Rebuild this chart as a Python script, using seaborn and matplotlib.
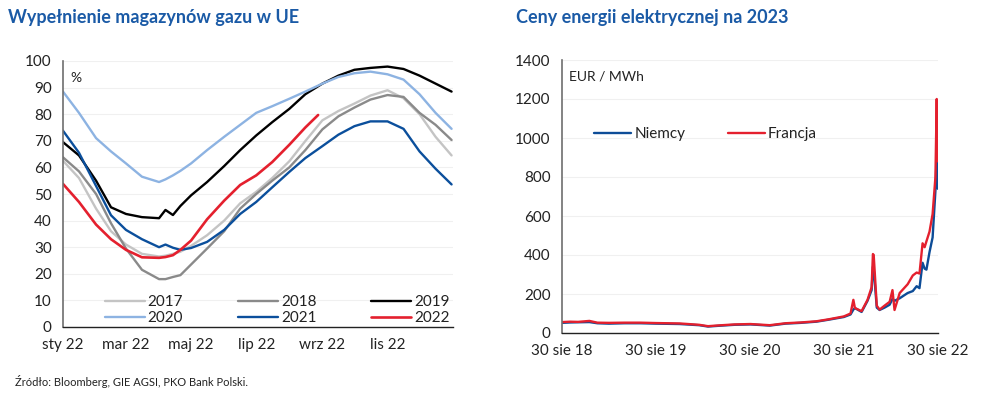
import pandas as pd
import matplotlib.pyplot as plt
import seaborn as sns

# --- left panel: EU gas storage fill (%), by day of year ---
days = [0, 15, 31, 45, 59, 74, 90, 96, 103, 110, 120, 135, 151, 166, 181, 196,
        212, 227, 243, 258, 273, 288, 304, 319, 334, 349, 364]
fill_2017 = [62.5, 56, 44.5, 36, 31, 27.5, 26.5, 26.8, 27.5, 28.3, 30.5, 34.5, 40, 46.5,
             50.8, 56, 62.3, 69.9, 77.7, 81.2, 84, 87, 89, 86, 80, 71.5, 64.5]
fill_2018 = [63.8, 58.5, 50, 39, 29.5, 21.5, 18, 18, 18.8, 19.5, 23.5, 29.5, 36, 44.5,
             50, 55, 60, 66.5, 74.3, 79.2, 82.5, 85.5, 87.2, 86.5, 80.5, 76, 70.3]
fill_2019 = [69.5, 64.5, 55, 45, 42.5, 41.3, 40.9, 44, 42.1, 45.5, 49.5, 54.5, 60.5, 66.5,
             72, 77, 82, 87.5, 91.5, 94.5, 96.7, 97.4, 97.9, 97, 94.5, 91.5, 88.5]
fill_2020 = [88.5, 80.5, 71, 66, 61.5, 56.5, 54.5, 55.5, 57, 58.7, 61.5, 66.5, 71.5, 76,
             80.5, 83, 85.8, 88.5, 91.5, 94, 95.4, 96, 95, 93, 87.5, 80.5, 74.5]
fill_2021 = [73.8, 65.5, 53, 42, 36.5, 33, 30, 31, 29.8, 29, 29.7, 32, 36.5, 42.5,
             47, 52.5, 58.3, 63.5, 68, 72.3, 75.5, 77.3, 77.3, 74.5, 66, 59.5, 53.6]
days_2022 = days[:18] + [239]
fill_2022 = [53.8, 47, 38.5, 33, 29, 26.2, 26, 26.3, 27, 29, 32.5, 40.5, 47.5, 53.4,
             57, 62, 68.5, 75, 79.7]

gas_years = ['2017', '2018', '2019', '2020', '2021', '2022']
gas_colors = ['#c4c4c4', '#8a8a8a', '#000000', '#8db3e2', '#0b4f9c', '#e4202e']
month_ticks = [0, 59, 120, 181, 243, 304, 365]
month_labels = ['sty 22', 'mar 22', 'maj 22', 'lip 22', 'wrz 22', 'lis 22', '']

# --- right panel: 2023 baseload power price (EUR/MWh) ---
price_dates = ['2018-08-30', '2018-10-01', '2018-11-01', '2018-12-15', '2019-01-15',
               '2019-03-01', '2019-05-01', '2019-07-01', '2019-09-01', '2019-12-01',
               '2020-02-15', '2020-03-20', '2020-05-01', '2020-07-01', '2020-09-01',
               '2020-11-15', '2021-01-15', '2021-03-15', '2021-05-15', '2021-07-01',
               '2021-08-30', '2021-09-25', '2021-10-06', '2021-10-12', '2021-11-07',
               '2021-11-30', '2021-12-16', '2021-12-21', '2021-12-24', '2022-01-05',
               '2022-01-16', '2022-02-04', '2022-02-24', '2022-03-07', '2022-03-15',
               '2022-04-04', '2022-05-05', '2022-05-25', '2022-06-09', '2022-06-20',
               '2022-07-02', '2022-07-10', '2022-07-17', '2022-07-29', '2022-08-10',
               '2022-08-21', '2022-08-26', '2022-08-29', '2022-08-30']
niemcy = [52, 54, 55, 56, 50, 48, 50, 50, 48, 46, 40, 33, 37, 42, 44, 38, 48, 52, 58, 68,
          82, 95, 120, 128, 108, 165, 220, 340, 330, 130, 118, 130, 145, 175, 165, 178,
          205, 215, 240, 230, 360, 330, 325, 415, 490, 730, 925, 760, 740]
francja = [56, 58, 57, 62, 53, 52, 53, 53, 51, 49, 42, 35, 39, 44, 46, 40, 50, 54, 60, 70,
           85, 100, 170, 128, 112, 170, 235, 405, 400, 140, 120, 140, 160, 220, 118, 205,
           250, 295, 310, 305, 460, 440, 470, 520, 610, 800, 1200, 900, 880]
price_ticks = ['2018-08-30', '2019-08-30', '2020-08-30', '2021-08-30', '2022-08-30']
price_labels = ['30 sie 18', '30 sie 19', '30 sie 20', '30 sie 21', '30 sie 22']

sns.set_style('white')
plt.rcParams['font.family'] = ['Lato', 'DejaVu Sans']
title_color = '#1a5aa6'
text_color = '#222222'

fig = plt.figure(figsize=(9.84, 4.0), dpi=100)
ax1 = fig.add_axes([0.064, 0.1825, 0.396, 0.665])
ax2 = fig.add_axes([0.571, 0.1675, 0.382, 0.6825])

# left chart
series = [fill_2017, fill_2018, fill_2019, fill_2020, fill_2021]
for yr, vals, col in zip(gas_years[:5], series, gas_colors[:5]):
    sns.lineplot(x=days, y=vals, ax=ax1, color=col, lw=1.7, label=yr, estimator=None)
sns.lineplot(x=days_2022, y=fill_2022, ax=ax1, color=gas_colors[5], lw=1.9,
             label='2022', estimator=None)

ax1.set_xlim(0, 365)
ax1.set_ylim(0, 100)
ax1.set_yticks(range(0, 101, 10))
ax1.set_xticks(month_ticks)
ax1.set_xticklabels(month_labels)
ax1.text(0.02, 0.96, '%', transform=ax1.transAxes, fontsize=10, color=text_color,
         va='top')

handles, labels = ax1.get_legend_handles_labels()
order = [0, 3, 1, 4, 2, 5]
ax1.legend([handles[i] for i in order], [labels[i] for i in order], ncol=3,
           loc='lower center', bbox_to_anchor=(0.55, -0.045), frameon=False,
           fontsize=11, handlelength=2.6, handletextpad=0.2, columnspacing=3.6,
           labelspacing=0.15, labelcolor=text_color)

# right chart
dates = pd.to_datetime(price_dates)
sns.lineplot(x=dates, y=niemcy, ax=ax2, color='#0d4c97', lw=1.7, label='Niemcy',
             estimator=None)
sns.lineplot(x=dates, y=francja, ax=ax2, color='#e4202e', lw=1.7, label='Francja',
             estimator=None)
ax2.set_xlim(pd.Timestamp('2018-08-30'), pd.Timestamp('2022-08-30'))
ax2.set_ylim(0, 1400)
ax2.set_yticks(range(0, 1401, 200))
ax2.set_xticks(pd.to_datetime(price_ticks))
ax2.set_xticklabels(price_labels)
ax2.text(0.02, 0.96, 'EUR / MWh', transform=ax2.transAxes, fontsize=10,
         color=text_color, va='top')
ax2.legend(ncol=2, loc='upper left', bbox_to_anchor=(0.05, 0.805), frameon=False,
           fontsize=11, handlelength=2.4, handletextpad=0.2, columnspacing=2.8,
           labelcolor=text_color)

for ax in (ax1, ax2):
    sns.despine(ax=ax)
    ax.spines['left'].set_color('#6e6e6e')
    ax.spines['bottom'].set_color('#222222')
    ax.spines['left'].set_linewidth(1.2)
    ax.spines['bottom'].set_linewidth(1.0)
    ax.tick_params(axis='both', direction='out', length=5, width=1, colors=text_color,
                   labelsize=11, pad=3)
    ax.tick_params(axis='y', color='#6e6e6e')
    ax.yaxis.grid(True, color='#f0f0f0', lw=0.8)
    ax.set_axisbelow(True)
    ax.set_xlabel('')
    ax.set_ylabel('')

fig.text(0.008, 0.955, 'Wypełnienie magazynów gazu w UE', fontsize=13,
         fontweight='bold', color=title_color, va='center')
fig.text(0.524, 0.955, 'Ceny energii elektrycznej na 2023', fontsize=13,
         fontweight='bold', color=title_color, va='center')
fig.text(0.015, 0.045, 'Źródło: Bloomberg, GIE AGSI, PKO Bank Polski.', fontsize=8,
         color=text_color, va='center')

fig.savefig('out.png', dpi=100)
